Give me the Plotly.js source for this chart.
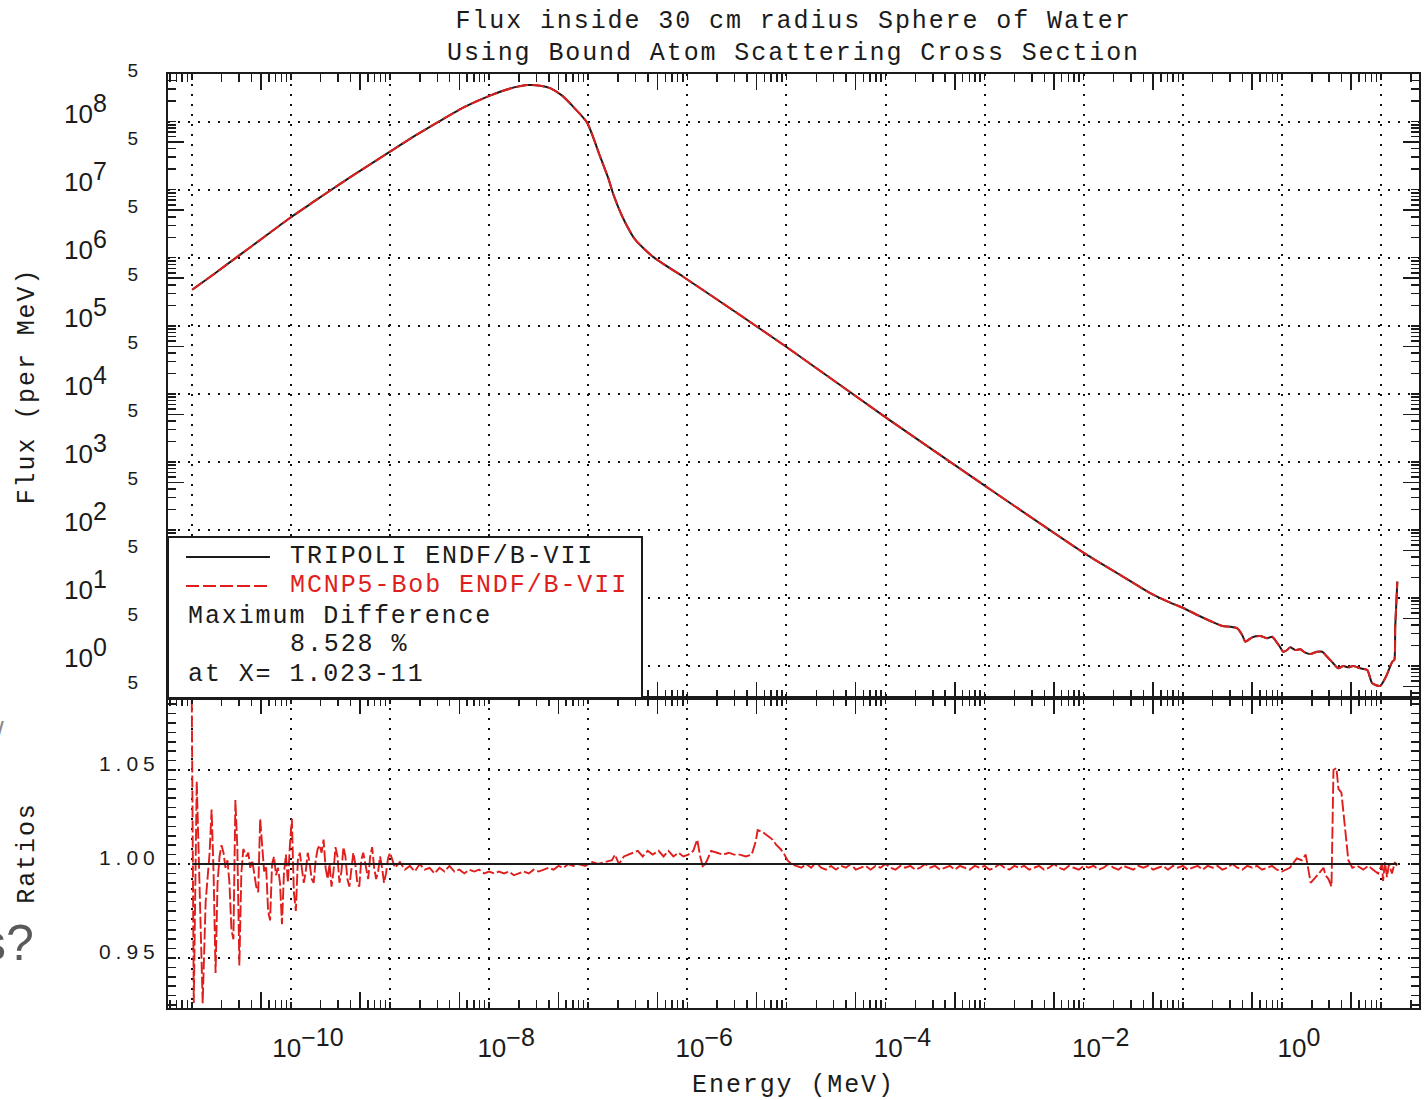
<!DOCTYPE html>
<html>
<head>
<meta charset="utf-8">
<script src="https://cdn.plot.ly/plotly-3.0.1.min.js"></script>
<style>
html,body{margin:0;padding:0;background:#fff;}
#chart{width:1425px;height:1100px;}
text[style*="Liberation Mono"]{letter-spacing:1.9px;}
.y2tick text{letter-spacing:5px;}
</style>
</head>
<body>
<div id="chart"></div>
<script>
// ---------- data ----------
const chartTitle = 'Flux inside 30 cm radius Sphere of Water<br>Using Bound Atom Scattering Cross Section';
const seriesNames = ['TRIPOLI ENDF/B-VII', 'MCNP5-Bob ENDF/B-VII'];
const noteLines = ['Maximum Difference', '8.528 %', 'at X= 1.023-11'];

// Flux (per MeV) vs energy (MeV)
const fluxEnergy = [1.01e-11,1.72e-11,3.08e-11,5.50e-11,9.84e-11,1.76e-10,3.14e-10,5.61e-10,1.00e-9,1.79e-9,
  3.21e-9,5.73e-9,1.02e-8,1.63e-8,2.42e-8,3.27e-8,4.13e-8,5.46e-8,7.05e-8,9.75e-8,
  1.32e-7,1.60e-7,1.79e-7,2.25e-7,2.98e-7,4.52e-7,9.08e-7,3.04e-6,9.95e-6,1.02e-4,1.01e-3,
  1.04e-2,2.33e-2,4.69e-2,7.46e-2,0.101,0.140,0.189,0.250,0.301,0.354,
  0.397,0.426,0.457,0.501,0.604,0.711,0.798,0.855,0.962,1.03,
  1.13,1.21,1.36,1.53,1.72,1.93,2.27,2.55,2.86,3.29,
  3.70,4.16,4.67,5.24,6.17,7.26,8.15,9.78,11.0,11.6,
  13.0,13.6,13.9,14.6];
const tripoliFlux = [3.38e5,5.92e5,1.11e6,2.07e6,3.87e6,6.89e6,1.22e7,2.11e7,3.62e7,6.22e7,
  1.03e8,1.66e8,2.41e8,3.06e8,3.44e8,3.38e8,3.11e8,2.41e8,1.66e8,9.67e7,
  3.06e7,1.45e7,8.60e6,3.80e6,1.84e6,1.03e6,5.26e5,1.61e5,4.91e4,4.44e3,4.44e2,
  44.4,21.8,11.8,8.53,7.13,5.62,4.59,3.87,3.78,3.58,
  2.86,2.28,2.41,2.64,2.76,2.56,2.70,2.41,1.88,1.62,
  1.72,1.88,1.72,1.76,1.57,1.50,1.62,1.62,1.37,1.10,
  0.925,1.00,0.957,1.00,0.925,0.873,0.557,0.508,0.659,0.781,
  1.16,1.22,3.78,17.4];
const mcnpFlux = [3.38e5,5.92e5,1.11e6,2.07e6,3.87e6,6.89e6,1.22e7,2.11e7,3.62e7,6.22e7,
  1.03e8,1.66e8,2.41e8,3.06e8,3.44e8,3.38e8,3.11e8,2.41e8,1.66e8,9.67e7,
  3.06e7,1.45e7,8.60e6,3.80e6,1.84e6,1.03e6,5.26e5,1.61e5,4.91e4,4.44e3,4.44e2,
  44.4,21.8,11.8,8.53,7.13,5.62,4.59,3.87,3.78,3.58,
  2.86,2.28,2.41,2.64,2.76,2.56,2.70,2.41,1.88,1.62,
  1.72,1.88,1.72,1.76,1.57,1.50,1.62,1.62,1.37,1.10,
  0.925,1.00,0.957,1.00,0.925,0.873,0.557,0.508,0.659,0.781,
  1.16,1.22,3.78,17.4];

// Ratio panel: log10(energy / MeV) and MCNP/TRIPOLI ratio
const ratioLogEnergy = [
  -11.00,-10.98,-10.95,-10.92,-10.89,-10.86,-10.84,-10.82,-10.80,-10.78,
  -10.76,-10.74,-10.72,-10.70,-10.68,-10.66,-10.64,-10.62,-10.60,-10.58,
  -10.56,-10.54,-10.52,-10.50,-10.48,-10.45,-10.43,-10.41,-10.39,-10.37,
  -10.35,-10.33,-10.31,-10.29,-10.27,-10.25,-10.23,-10.21,-10.19,-10.17,
  -10.15,-10.13,-10.11,-10.09,-10.07,-10.05,-10.03,-10.01,-9.99,-9.97,
  -9.95,-9.93,
  -9.91,-9.89,-9.87,-9.85,-9.83,-9.81,-9.79,-9.77,-9.75,-9.73,
  -9.71,-9.69,-9.67,-9.65,-9.63,-9.61,-9.59,-9.57,-9.55,-9.53,
  -9.51,-9.49,-9.47,-9.45,-9.43,-9.41,-9.39,-9.37,-9.35,-9.33,
  -9.31,-9.29,-9.27,-9.24,-9.22,-9.20,-9.18,-9.16,-9.14,-9.12,
  -9.10,-9.08,-9.06,-9.04,-9.02,-9.00,
  -8.95,-8.90,-8.85,-8.80,-8.75,-8.70,-8.65,-8.60,-8.55,-8.50,
  -8.45,-8.40,-8.35,-8.30,-8.25,-8.20,-8.15,-8.10,-8.05,-8.00,
  -7.95,-7.90,-7.85,-7.80,-7.75,-7.70,-7.65,-7.60,-7.55,-7.50,
  -7.45,-7.40,-7.35,-7.30,-7.25,-7.20,-7.15,-7.10,
  -7.03,-6.96,-6.90,-6.83,-6.76,-6.73,-6.69,-6.64,-6.55,-6.50,
  -6.45,-6.40,-6.35,-6.29,-6.24,-6.19,-6.14,-6.09,-6.04,-5.99,
  -5.94,-5.90,-5.87,-5.84,-5.80,-5.76,-5.70,-5.64,-5.58,-5.53,
  -5.47,-5.41,-5.35,-5.31,-5.29,-5.24,-5.19,-5.14,-5.10,-5.06,
  -5.02,-4.99,-4.95,-4.90,-4.85,-4.80,-4.75,-4.70,-4.65,-4.60,
  -4.55,-4.50,-4.45,-4.40,-4.35,-4.30,-4.25,-4.20,-4.15,-4.10,
  -4.05,-4.00,-3.95,-3.90,-3.85,-3.80,-3.75,-3.70,-3.65,-3.60,
  -3.55,-3.50,-3.45,-3.40,-3.35,-3.30,-3.25,-3.20,-3.15,-3.10,
  -3.05,-3.00,-2.95,-2.90,-2.85,-2.80,-2.75,-2.70,-2.65,-2.60,
  -2.55,-2.50,-2.45,-2.40,-2.35,-2.30,-2.25,-2.20,-2.15,-2.10,
  -2.05,-2.00,-1.95,-1.90,-1.85,-1.80,-1.75,-1.70,-1.65,-1.60,
  -1.55,-1.50,-1.45,-1.40,-1.35,-1.30,-1.25,-1.20,-1.15,-1.10,
  -1.05,-1.00,-0.95,-0.90,-0.85,-0.80,-0.75,-0.70,-0.65,-0.60,
  -0.55,-0.50,-0.45,-0.40,-0.35,-0.30,-0.25,-0.20,-0.15,-0.10,
  -0.05,
  0.00,0.08,0.15,0.20,0.24,0.26,0.29,0.34,0.39,0.42,
  0.44,0.47,0.50,0.52,0.55,0.57,0.60,0.64,0.67,0.71,
  0.76,0.82,0.87,0.92,0.97,1.01,1.02,1.04,1.06,1.08,
  1.11,1.14,1.16];
const mcnpRatio = [
  1.087,0.926,1.044,0.990,0.926,0.980,0.992,1.006,1.029,0.995,
  0.942,0.990,1.004,1.010,1.006,0.998,1.002,0.990,0.965,0.960,
  1.034,1.008,0.946,0.995,1.008,1.004,1.006,0.998,1.002,0.996,
  0.988,0.985,1.024,1.010,0.996,0.999,0.975,0.970,1.000,1.004,
  0.994,0.998,0.990,0.968,0.995,1.005,0.990,1.010,1.024,0.985,
  0.975,1.002,
  1.006,0.998,0.990,0.996,1.006,1.000,0.992,0.990,1.002,1.008,
  1.010,1.006,1.013,0.998,0.992,1.000,0.988,0.996,1.009,1.004,
  0.990,0.996,1.009,1.004,0.992,0.988,0.998,1.006,1.000,0.990,
  0.988,1.002,1.006,0.998,0.992,1.004,1.009,0.998,0.992,0.996,
  1.004,0.998,0.990,0.995,1.003,1.006,
  0.998,1.001,0.997,0.999,0.996,1.000,0.997,0.998,0.995,0.998,
  0.996,0.999,0.996,0.997,0.995,0.997,0.996,0.997,0.995,0.996,
  0.995,0.996,0.995,0.996,0.994,0.995,0.996,0.995,0.997,0.996,
  0.997,0.998,0.997,0.999,0.998,1.000,0.999,1.000,
  0.999,1.001,1.000,1.001,1.002,1.005,1.000,1.004,1.006,1.007,
  1.004,1.007,1.005,1.007,1.004,1.007,1.004,1.006,1.004,1.005,
  1.007,1.013,1.004,0.998,1.002,1.007,1.006,1.005,1.006,1.005,
  1.005,1.004,1.005,1.012,1.018,1.017,1.015,1.013,1.010,1.008,
  1.005,1.002,1.000,0.999,0.998,1.000,0.998,1.001,0.998,0.997,
  0.999,0.997,0.999,0.998,1.000,0.997,0.998,0.999,0.997,0.999,
  0.998,1.000,0.998,0.997,0.999,0.998,0.999,0.997,0.998,1.000,
  0.998,0.999,0.997,0.998,0.999,0.997,0.999,0.998,0.997,0.999,
  0.998,0.999,0.997,0.998,1.000,0.998,0.997,0.999,0.998,0.999,
  0.997,0.998,0.999,0.997,0.998,1.000,0.998,0.997,0.999,0.998,
  0.997,0.999,0.998,0.999,0.997,0.998,1.000,0.998,0.997,0.999,
  0.998,0.997,0.999,0.998,0.999,0.997,0.998,0.999,0.997,0.999,
  0.998,0.999,0.997,0.998,0.999,0.997,0.999,0.998,0.999,0.997,
  0.998,1.000,0.998,0.997,0.999,0.998,0.999,0.997,0.998,0.999,
  0.997,
  0.996,0.998,1.003,1.002,1.005,0.999,0.990,0.993,0.996,0.998,
  0.994,0.992,0.988,1.050,1.051,1.040,1.038,1.016,1.002,0.998,
  0.999,0.997,0.999,0.997,0.995,1.000,0.991,1.001,0.993,1.000,
  0.995,1.001,0.999];
const tripoliRatioEnergy = [1.01e-11, 14.6];
const tripoliRatio = [1.0, 1.0];

// axis ticks
const xDecadeExp = [-11,-10,-9,-8,-7,-6,-5,-4,-3,-2,-1,0,1];
const xLabelExp = [-10,-8,-6,-4,-2,0];
const yDecadeExp = [0,1,2,3,4,5,6,7,8];
const ratioTickVals = [0.95, 1.00, 1.05];
const ratioTickText = ['0.95', '1.00', '1.05'];
const minorMultipliers = [2,3,4,6,7,8,9];

// ---------- styling / layout ----------
const RED = '#df1f1d', INK = '#1b1b1b';
const MONO = 'Liberation Mono', SANS = 'Liberation Sans';
const xRange = [-11.24, 1.383];
const yRange = [-0.47, 8.70];
const ratioRange = [0.9234, 1.0883];
const splitFrac = 0.3319;

const ratioEnergy = ratioLogEnergy.map(v => Math.pow(10, v));
const pow10 = e => Math.pow(10, e);
const xDecades = xDecadeExp.map(pow10);
const xMinor = [], xFives = [];
for (let e = -12; e <= 1; e++) { minorMultipliers.forEach(m => xMinor.push(m * pow10(e))); xFives.push(5 * pow10(e)); }
const yDecades = yDecadeExp.map(pow10);
const yMinor = [], yFives = [];
for (let e = -1; e <= 8; e++) { minorMultipliers.forEach(m => yMinor.push(m * pow10(e))); yFives.push(5 * pow10(e)); }
const supSpan = s => '<sup><span style="font-size:25px">' + s + '</span></sup>';
const xLabelVals = xLabelExp.map(pow10);
const xTickText = xLabelExp.map(e => '10' + supSpan(e < 0 ? '\u2212' + (-e) : String(e)));
const yTickText = yDecadeExp.map(e => '10' + supSpan(String(e)));

const axBase = {showline:true, linecolor:INK, linewidth:2, mirror:'allticks', ticks:'inside',
  tickcolor:INK, tickwidth:1.5, zeroline:false, fixedrange:true};
const gridBase = {showgrid:true, gridcolor:'#111', gridwidth:2, griddash:'2px,8px'};
const minorLog = vals => ({tickmode:'array', tickvals:vals, ticks:'inside', ticklen:8, tickcolor:INK, tickwidth:1.5, showgrid:false});

const traces = [
  {x:fluxEnergy, y:tripoliFlux, name:seriesNames[0], type:'scatter', mode:'lines', xaxis:'x', yaxis:'y',
   line:{color:INK, width:2, shape:'spline', smoothing:0.6}},
  {x:fluxEnergy, y:mcnpFlux, name:seriesNames[1], type:'scatter', mode:'lines', xaxis:'x', yaxis:'y',
   line:{color:RED, width:2, dash:'12px,4px', shape:'spline', smoothing:0.6}},
  {x:ratioEnergy, y:mcnpRatio, name:seriesNames[1] + ' / ' + seriesNames[0], type:'scatter', mode:'lines', xaxis:'x2', yaxis:'y2',
   line:{color:RED, width:1.9, dash:'12px,3px'}},
  {x:tripoliRatioEnergy, y:tripoliRatio, name:seriesNames[0], type:'scatter', mode:'lines', xaxis:'x2', yaxis:'y2',
   line:{color:INK, width:2}},
  // empty carriers so the overlay tick axes get drawn
  {x:[], y:[], type:'scatter', mode:'lines', xaxis:'x3', yaxis:'y3', hoverinfo:'skip', showlegend:false},
  {x:[], y:[], type:'scatter', mode:'lines', xaxis:'x4', yaxis:'y2', hoverinfo:'skip', showlegend:false},
  {x:[], y:[], type:'scatter', mode:'lines', xaxis:'x5', yaxis:'y2', hoverinfo:'skip', showlegend:false}
];

// paper-coordinate positions of the in-plot key box (fractions of the plot area)
const boxRight = 0.3789, boxTop = 0.5043;
const keyLineX0 = 0.0144, keyLineX1 = 0.0815, keyTextX = 0.0959, noteX = 0.0144;
const rowY = [0.4829, 0.4519, 0.4197, 0.3887, 0.3576];

const monoFont = {family:MONO, size:25, color:INK};

const layout = {
  width:1425, height:1100,
  margin:{l:168, r:6, t:74, b:92, pad:0},
  paper_bgcolor:'#ffffff', plot_bgcolor:'#ffffff',
  showlegend:false,
  title:{text:chartTitle, font:{family:MONO, size:25, color:INK}, x:0.5, xref:'paper', xanchor:'center',
         y:0.975, yref:'container', yanchor:'top'},
  xaxis:Object.assign({}, axBase, gridBase, {domain:[0,1], anchor:'y', type:'log', range:xRange,
    tickmode:'array', tickvals:xDecades, ticklen:6, showticklabels:false, minor:minorLog(xMinor)}),
  xaxis3:Object.assign({}, axBase, {overlaying:'x', anchor:'y', type:'log', range:xRange,
    tickmode:'array', tickvals:xFives, ticklen:16, showticklabels:false, showgrid:false}),
  xaxis2:Object.assign({}, axBase, gridBase, {domain:[0,1], anchor:'y2', type:'log', range:xRange,
    tickmode:'array', tickvals:xDecades, ticklen:6, showticklabels:false,
    minor:minorLog(xMinor),
    title:{text:'Energy (MeV)', font:monoFont, standoff:65}}),
  xaxis4:Object.assign({}, axBase, {overlaying:'x2', anchor:'y2', type:'log', range:xRange,
    tickmode:'array', tickvals:xFives, ticklen:16, showticklabels:false, showgrid:false}),
  xaxis5:{overlaying:'x2', anchor:'y2', type:'log', range:xRange, showline:false, showgrid:false, zeroline:false,
    ticks:'', tickmode:'array', tickvals:xLabelVals, ticktext:xTickText, showticklabels:true,
    tickfont:{family:SANS, size:26, color:INK}, ticklabelstandoff:22, ticklabelshift:17, fixedrange:true},
  yaxis:Object.assign({}, axBase, gridBase, {domain:[splitFrac,1], anchor:'x', type:'log', range:yRange,
    tickmode:'array', tickvals:yDecades, ticktext:yTickText, ticklen:8,
    tickfont:{family:SANS, size:26, color:INK}, ticklabelstandoff:54, ticklabelshift:-8,
    minor:minorLog(yMinor),
    title:{text:'Flux (per MeV)', font:monoFont, standoff:22}}),
  yaxis3:Object.assign({}, axBase, {overlaying:'y', anchor:'x', type:'log', range:yRange,
    tickmode:'array', tickvals:yFives, ticktext:yFives.map(() => '5'), ticklen:16,
    tickfont:{family:SANS, size:19, color:INK}, ticklabelstandoff:24, ticklabelshift:-4, showgrid:false}),
  yaxis2:Object.assign({}, axBase, gridBase, {domain:[0,splitFrac], anchor:'x2', range:ratioRange,
    tickmode:'array', tickvals:ratioTickVals, ticktext:ratioTickText, ticklen:8,
    tickfont:{family:SANS, size:21, color:INK}, ticklabelstandoff:2, ticklabelshift:-6,
    minor:{tickmode:'linear', tick0:0, dtick:0.005, ticks:'inside', ticklen:8, tickcolor:INK, tickwidth:1.5, showgrid:false},
    title:{text:'Ratios', font:monoFont, standoff:57}}),
  shapes:[
    {type:'rect', xref:'paper', yref:'paper', x0:0, x1:boxRight, y0:splitFrac, y1:boxTop,
     line:{color:INK, width:2}, fillcolor:'#ffffff', layer:'above'},
    {type:'line', xref:'paper', yref:'paper', x0:keyLineX0, x1:keyLineX1, y0:rowY[0], y1:rowY[0],
     line:{color:INK, width:2}, layer:'above'},
    {type:'line', xref:'paper', yref:'paper', x0:keyLineX0, x1:keyLineX1, y0:rowY[1], y1:rowY[1],
     line:{color:RED, width:2, dash:'13px,4px'}, layer:'above'}
  ],
  annotations:[
    {xref:'paper', yref:'paper', x:keyTextX, y:rowY[0], xanchor:'left', yanchor:'middle', align:'left', showarrow:false,
     text:seriesNames[0], font:monoFont},
    {xref:'paper', yref:'paper', x:keyTextX, y:rowY[1], xanchor:'left', yanchor:'middle', align:'left', showarrow:false,
     text:seriesNames[1], font:{family:MONO, size:25, color:RED}},
    {xref:'paper', yref:'paper', x:noteX, y:rowY[2], xanchor:'left', yanchor:'middle', align:'left', showarrow:false,
     text:noteLines[0], font:monoFont},
    {xref:'paper', yref:'paper', x:keyTextX, y:rowY[3], xanchor:'left', yanchor:'middle', align:'left', showarrow:false,
     text:noteLines[1], font:monoFont},
    {xref:'paper', yref:'paper', x:noteX, y:rowY[4], xanchor:'left', yanchor:'middle', align:'left', showarrow:false,
     text:noteLines[2], font:monoFont},
    {xref:'paper', yref:'paper', x:-0.1055, y:0.0696, xanchor:'right', yanchor:'middle', showarrow:false,
     text:'s?', font:{family:SANS, size:50, color:'#5a5a5a'}},
    {xref:'paper', yref:'paper', x:-0.1295, y:0.2965, xanchor:'right', yanchor:'middle', showarrow:false,
     text:'/', font:{family:SANS, size:28, color:'#8a8a8a'}}
  ]
};

Plotly.newPlot('chart', traces, layout, {displayModeBar:false, staticPlot:true});
</script>
</body>
</html>
